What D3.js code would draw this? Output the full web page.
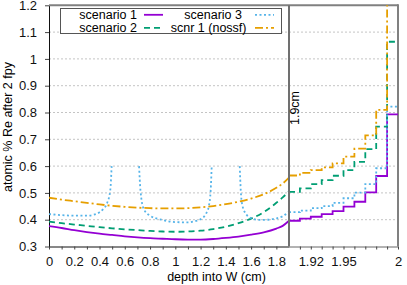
<!DOCTYPE html>
<html>
<head>
<meta charset="utf-8">
<script src="https://cdn.jsdelivr.net/npm/d3@7"></script>
<style>
body { margin: 0; background: #fff; }
svg { display: block; font-family: "Liberation Sans", Arial, sans-serif; }
</style>
</head>
<body>
<svg id="chart" width="407" height="285"></svg>
<script>
// depth grid (cm) for the smooth part, 0 .. 1.9
var depth = [0, 0.1, 0.2, 0.3, 0.4, 0.5, 0.6, 0.7, 0.8, 0.9, 1.0, 1.1, 1.2, 1.3, 1.4, 1.5, 1.6, 1.7, 1.8, 1.85, 1.9];
var scen1 = [0.376, 0.369, 0.361, 0.354, 0.348, 0.343, 0.338, 0.334, 0.331, 0.329, 0.327, 0.326, 0.326, 0.328, 0.332, 0.337, 0.344, 0.353, 0.367, 0.377, 0.396];
var scen2 = [0.393, 0.387, 0.382, 0.377, 0.372, 0.368, 0.364, 0.361, 0.358, 0.356, 0.355, 0.356, 0.359, 0.365, 0.374, 0.387, 0.404, 0.428, 0.463, 0.483, 0.506];
var nossf = [0.482, 0.475, 0.469, 0.463, 0.457, 0.452, 0.448, 0.445, 0.443, 0.442, 0.442, 0.443, 0.446, 0.451, 0.458, 0.467, 0.479, 0.495, 0.519, 0.535, 0.557];

// scenario 3 has its own sampling (spikes, gaps where it leaves the plot)
var depth3 = [0, 0.1, 0.2, 0.3, 0.35, 0.4, 0.43, 0.46, 0.485, 0.496, 0.6, 0.713, 0.724, 0.75, 0.8, 0.9, 1.0, 1.1, 1.15, 1.2, 1.24, 1.265, 1.28, 1.288, 1.4, 1.51, 1.518, 1.53, 1.565, 1.6, 1.65, 1.7, 1.75, 1.8, 1.85, 1.9];
var scen3 = [0.421, 0.417, 0.415, 0.415, 0.418, 0.428, 0.44, 0.462, 0.51, 0.6, null, 0.6, 0.51, 0.44, 0.415, 0.399, 0.391, 0.39, 0.394, 0.402, 0.42, 0.45, 0.51, 0.6, null, 0.6, 0.51, 0.455, 0.418, 0.406, 0.4, 0.399, 0.401, 0.405, 0.413, 0.43];

// last 1 mm, one value per 0.01 cm bin
var binStart = [1.90, 1.91, 1.92, 1.93, 1.94, 1.95, 1.96, 1.97, 1.98, 1.99];
var step1 = [0.396, 0.404, 0.411, 0.421, 0.432, 0.449, 0.467, 0.502, 0.563, 0.793];
var step2 = [0.504, 0.517, 0.533, 0.548, 0.564, 0.585, 0.616, 0.663, 0.747, 1.064];
var step3 = [0.428, 0.434, 0.443, 0.451, 0.463, 0.480, 0.501, 0.533, 0.592, 0.822];
var stepN = [0.565, 0.575, 0.585, 0.595, 0.610, 0.635, 0.665, 0.715, 0.810, 1.300];

var yTicks = [0.3, 0.4, 0.5, 0.6, 0.7, 0.8, 0.9, 1, 1.1, 1.2];
var xTicksL = [0, 0.2, 0.4, 0.6, 0.8, 1, 1.2, 1.4, 1.6, 1.8];
var xLabelsR = [1.92, 1.95, 2];

function drawChart() {
	var svg = d3.select('#chart'),
		pl = 49, pr = 398, pt = 5.3, pb = 246.5, split = 289;

	var xl = d3.scaleLinear().domain([0, 1.9]).range([pl, split]);
	var xr = d3.scaleLinear().domain([1.9, 2.0]).range([split, pr]);
	var y = d3.scaleLinear().domain([0.3, 1.2]).range([pb, pt]);

	svg.append("defs").append("clipPath")
		.attr("id", "clip")
		.append("rect")
		.attr("x", pl).attr("y", pt)
		.attr("width", pr - pl).attr("height", pb - pt);

	// grid
	svg.append("g").selectAll("line").data(yTicks.slice(1, -1)).enter().append("line")
		.attr("x1", pl).attr("x2", pr)
		.attr("y1", function (d) { return y(d); }).attr("y2", function (d) { return y(d); })
		.attr("stroke", "#c4c4c4").attr("stroke-width", 1).attr("stroke-dasharray", "2,2");

	// axes
	var yAxis = svg.append("g")
		.attr("transform", "translate(" + pl + ",0)")
		.call(d3.axisLeft(y).tickValues(yTicks).tickSize(4).tickSizeOuter(0).tickPadding(8).tickFormat(d3.format("~g")));

	var xAxisL = svg.append("g")
		.attr("transform", "translate(0," + pb + ")")
		.call(d3.axisBottom(xl).tickValues(d3.range(0, 19).map(function (i) { return i / 10; }))
			.tickSize(3).tickSizeOuter(0).tickPadding(7)
			.tickFormat(function (d) { return xTicksL.some(function (t) { return Math.abs(t - d) < 1e-9; }) ? d3.format("~g")(d) : ""; }));

	var xAxisR = svg.append("g")
		.attr("transform", "translate(0," + pb + ")")
		.call(d3.axisBottom(xr).tickValues(d3.range(1, 11).map(function (i) { return 1.9 + i / 100; }))
			.tickSize(3).tickSizeOuter(0).tickPadding(7)
			.tickFormat(function (d) { return xLabelsR.some(function (t) { return Math.abs(t - d) < 1e-9; }) ? d3.format("~g")(+d.toFixed(2)) : ""; }));

	[yAxis, xAxisL, xAxisR].forEach(function (a) {
		a.selectAll("text").attr("font-size", 13).attr("fill", "#111").attr("font-family", "Liberation Sans, Arial, sans-serif");
		a.selectAll(".tick line").attr("stroke", "#444");
		a.select(".domain").attr("stroke", "#111");
	});
	xAxisR.select(".domain").attr("stroke", "#666");

	// borders
	svg.append("line").attr("x1", pl).attr("x2", pr).attr("y1", pt).attr("y2", pt)
		.attr("stroke", "#808080").attr("stroke-width", 2);
	svg.append("line").attr("x1", pr).attr("x2", pr).attr("y1", pt - 1).attr("y2", pb)
		.attr("stroke", "#808080").attr("stroke-width", 2);

	// series
	var lineL = d3.line()
		.defined(function (d) { return d[1] != null; })
		.x(function (d) { return xl(d[0]); })
		.y(function (d) { return y(d[1]); })
		.curve(d3.curveMonotoneX);
	var lineR = d3.line()
		.x(function (d) { return xr(d[0]); })
		.y(function (d) { return y(d[1]); })
		.curve(d3.curveStepAfter);

	function pairs(xs, ys) { return xs.map(function (x, i) { return [x, ys[i]]; }); }
	function steps(vals) { var p = pairs(binStart, vals); p.push([2.0, vals[vals.length - 1]]); return p; }

	var series = [
		{ name: "scenario 1", color: "#9400d3", dash: null, left: pairs(depth, scen1), right: steps(step1) },
		{ name: "scenario 2", color: "#009e73", dash: "6,4", left: pairs(depth, scen2), right: steps(step2) },
		{ name: "scenario 3", color: "#56b4e9", dash: "2,2.5", left: pairs(depth3, scen3), right: steps(step3) },
		{ name: "scnr 1 (nossf)", color: "#e69f00", dash: "8,3,2,3", left: pairs(depth, nossf), right: steps(stepN) }
	];

	var plot = svg.append("g").attr("clip-path", "url(#clip)");
	series.forEach(function (s) {
		[lineL(s.left), lineR(s.right)].forEach(function (d) {
			plot.append("path")
				.attr("d", d)
				.attr("fill", "none")
				.attr("stroke", s.color)
				.attr("stroke-width", 1.8)
				.attr("stroke-dasharray", s.dash);
		});
	});

	// 1.9 cm marker
	svg.append("line").attr("x1", xr(1.9)).attr("x2", xr(1.9)).attr("y1", pt).attr("y2", pb)
		.attr("stroke", "#707070").attr("stroke-width", 2);
	svg.append("text")
		.attr("transform", "translate(" + (xr(1.9) + 10) + ",108) rotate(-90)")
		.attr("text-anchor", "middle").attr("font-size", 12.5)
		.text("1.9cm");

	// legend
	svg.append("rect").attr("x", 60.5).attr("y", 8.5).attr("width", 221).attr("height", 25)
		.attr("fill", "#fff").attr("stroke", "#555").attr("stroke-width", 1);
	var legPos = [[137, 19.3, 144], [137, 32.3, 144], [242, 19.3, 255], [246.5, 32.3, 255]];
	series.forEach(function (s, i) {
		var p = legPos[i];
		svg.append("text").attr("x", p[0]).attr("y", p[1]).attr("text-anchor", "end")
			.attr("font-size", 12.5).text(s.name);
		svg.append("line").attr("x1", p[2]).attr("x2", p[2] + 19).attr("y1", p[1] - 4.5).attr("y2", p[1] - 4.5)
			.attr("stroke", s.color).attr("stroke-width", 1.8).attr("stroke-dasharray", s.dash);
	});

	// axis titles
	svg.append("text")
		.attr("transform", "translate(12,127) rotate(-90)")
		.attr("text-anchor", "middle").attr("font-size", 12.5)
		.text("atomic % Re after 2 fpy");
	svg.append("text")
		.attr("x", 216.5).attr("y", 280.5)
		.attr("text-anchor", "middle").attr("font-size", 12.5)
		.text("depth into W (cm)");
}

drawChart();
</script>
</body>
</html>
